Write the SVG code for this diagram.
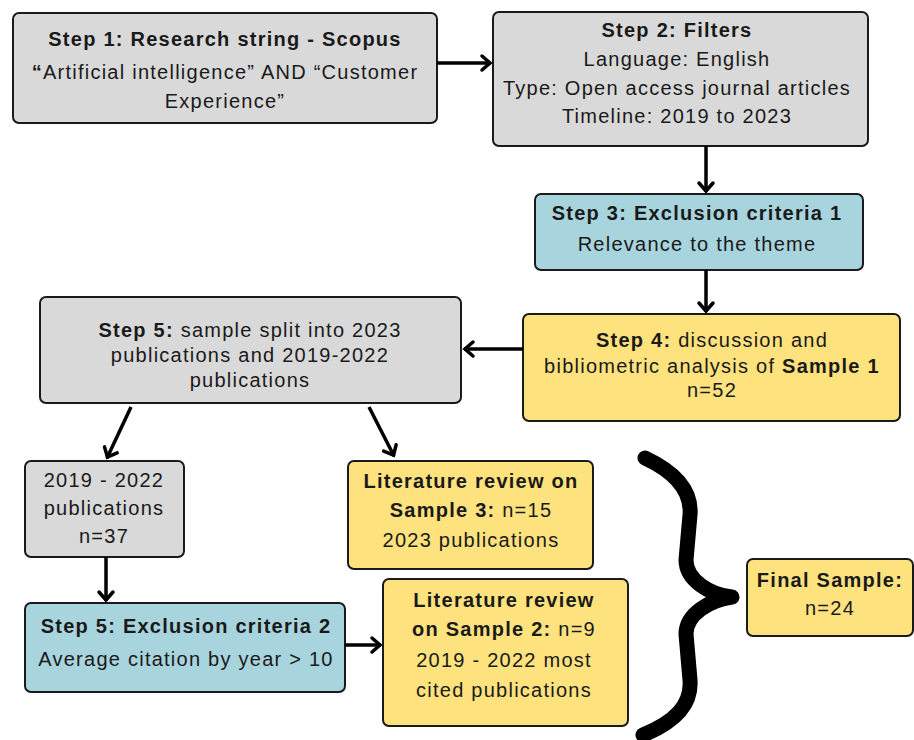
<svg xmlns="http://www.w3.org/2000/svg" width="914" height="740" viewBox="0 0 914 740">
<style>
.box{stroke:#1a1a1a;stroke-width:2}
.g{fill:#d9d9d9}.b{fill:#a8d4dd}.y{fill:#fde27e}
text{font-family:"Liberation Sans",Arial,sans-serif;font-size:20px;fill:#1a1a1a;text-anchor:middle;letter-spacing:1.25px}
.bd{font-weight:bold}
.conn{stroke:#000;stroke-width:3.5;fill:none}
</style>
<defs>
<marker id="ah" markerUnits="userSpaceOnUse" markerWidth="20" markerHeight="20" viewBox="-12 -10 14 20" refX="0" refY="0" orient="auto">
<path d="M-9,-7 L-1,0 L-9,7" fill="none" stroke="#000" stroke-width="3.5" stroke-linecap="round" stroke-linejoin="miter"/>
</marker>
</defs>
<g id="step1"><rect class="box g" x="13" y="13" width="424" height="110" rx="6"/>
<text x="225" y="46" class="bd">Step 1: Research string - Scopus</text>
<text x="225" y="79"><tspan class="bd">“</tspan>Artificial intelligence” AND “Customer</text>
<text x="225" y="108">Experience”</text></g>
<g id="step2"><rect class="box g" x="493" y="12" width="375" height="134" rx="6"/>
<text x="677" y="37" class="bd">Step 2: Filters</text>
<text x="677" y="66">Language: English</text>
<text x="677" y="95">Type: Open access journal articles</text>
<text x="677" y="123">Timeline: 2019 to 2023</text></g>
<g id="step3"><rect class="box b" x="535" y="194" width="328" height="76" rx="6"/>
<text x="697" y="220" class="bd">Step 3: Exclusion criteria 1</text>
<text x="697" y="251">Relevance to the theme</text></g>
<g id="step4"><rect class="box y" x="523" y="314" width="377" height="107" rx="6"/>
<text x="712" y="347"><tspan class="bd">Step 4:</tspan> discussion and</text>
<text x="712" y="373">bibliometric analysis of <tspan class="bd">Sample 1</tspan></text>
<text x="712" y="397">n=52</text></g>
<g id="step5"><rect class="box g" x="40" y="297" width="421" height="106" rx="6"/>
<text x="250" y="337"><tspan class="bd">Step 5:</tspan> sample split into 2023</text>
<text x="250" y="362">publications and 2019-2022</text>
<text x="250" y="387">publications</text></g>
<g id="pubs1922"><rect class="box g" x="25" y="461" width="159" height="96" rx="6"/>
<text x="104" y="487">2019 - 2022</text>
<text x="104" y="515">publications</text>
<text x="104" y="543">n=37</text></g>
<g id="excl2"><rect class="box b" x="25" y="603" width="320" height="89" rx="6"/>
<text x="186" y="633" class="bd">Step 5: Exclusion criteria 2</text>
<text x="186" y="666">Average citation by year &gt; 10</text></g>
<g id="sample3"><rect class="box y" x="348" y="461" width="245" height="108" rx="6"/>
<text x="471" y="488" class="bd">Literature review on</text>
<text x="471" y="517"><tspan class="bd">Sample 3:</tspan> n=15</text>
<text x="471" y="547">2023 publications</text></g>
<g id="sample2"><rect class="box y" x="383" y="579" width="245" height="147" rx="6"/>
<text x="504" y="607" class="bd">Literature review</text>
<text x="504" y="636"><tspan class="bd">on Sample 2:</tspan> n=9</text>
<text x="504" y="667">2019 - 2022 most</text>
<text x="504" y="697">cited publications</text></g>
<g id="final"><rect class="box y" x="747" y="559" width="166" height="77" rx="6"/>
<text x="830" y="587" class="bd">Final Sample:</text>
<text x="830" y="615">n=24</text></g>
<g id="connectors">
<line class="conn" x1="437" y1="63" x2="491" y2="63" marker-end="url(#ah)"/>
<line class="conn" x1="706" y1="146" x2="706" y2="192" marker-end="url(#ah)"/>
<line class="conn" x1="706" y1="270" x2="706" y2="312" marker-end="url(#ah)"/>
<line class="conn" x1="523" y1="349" x2="464" y2="349" marker-end="url(#ah)"/>
<line class="conn" x1="131" y1="407" x2="107" y2="458" marker-end="url(#ah)"/>
<line class="conn" x1="369" y1="407" x2="394" y2="456" marker-end="url(#ah)"/>
<line class="conn" x1="106" y1="557" x2="106" y2="601" marker-end="url(#ah)"/>
<line class="conn" x1="345" y1="645" x2="381" y2="645" marker-end="url(#ah)"/>
<path d="M645,458 C675,472 692,490 690,515 L686,560 C686,580 710,595 732,597 C710,600 686,614 686,634 L690,680 C692,705 675,722 643,735" fill="none" stroke="#000" stroke-width="15" stroke-linecap="round" stroke-linejoin="round"/>
</g>
</svg>
